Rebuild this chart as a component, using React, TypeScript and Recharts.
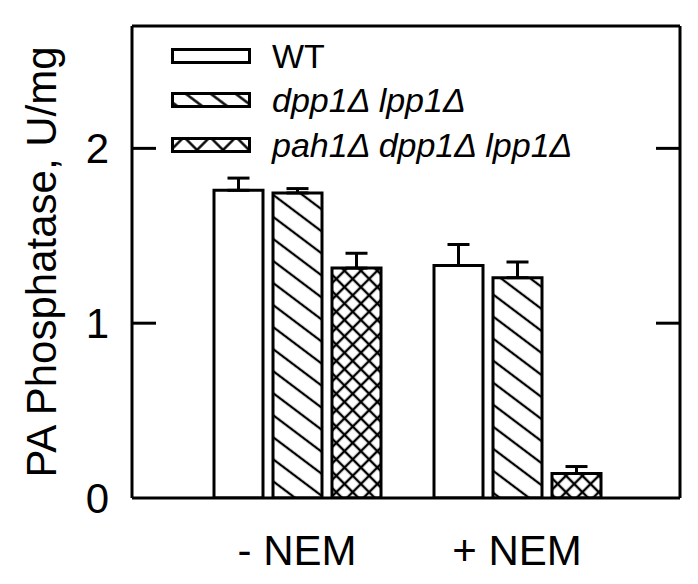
import React from 'react';
import { BarChart, Bar, Line, XAxis, YAxis, ErrorBar, Legend, CartesianGrid } from 'recharts';

const FONT = '"Liberation Sans", Arial, sans-serif';

// PA phosphatase activity (U/mg)
const conditions = ['- NEM', '+ NEM'];
const wtValues = [1.76, 1.33];
const wtErrors = [0.07, 0.12];
const dppValues = [1.745, 1.26];
const dppErrors = [0.025, 0.09];
const pahValues = [1.315, 0.14];
const pahErrors = [0.085, 0.04];
const yTicks = [0, 1, 2];
const frameTicks = [1, 2];

const series = [
  { key: 'wt', label: 'WT', fill: '#ffffff', swatch: '#ffffff', italic: false },
  { key: 'dpp', label: 'dpp1Δ lpp1Δ', fill: 'url(#hatchDiag)', swatch: 'url(#swatchDiag)', italic: true },
  { key: 'pah', label: 'pah1Δ dpp1Δ lpp1Δ', fill: 'url(#hatchCross)', swatch: 'url(#swatchCross)', italic: true },
];

// errors only go up, so lower part is 0
const data = conditions.map((c, i) => ({
  condition: c,
  wt: wtValues[i],
  wtErr: [0, wtErrors[i]],
  dpp: dppValues[i],
  dppErr: [0, dppErrors[i]],
  pah: pahValues[i],
  pahErr: [0, pahErrors[i]],
}));

const LeftTick = (props: any) => {
  const { x, y, payload } = props;
  return (
    <g>
      <text x={x} y={y} dy="0.355em" textAnchor="end" fontSize={42} fontFamily={FONT} fill="#000">
        {payload.value}
      </text>
      {payload.value > 0 && (
        <line x1={x + 23} x2={x + 47} y1={y} y2={y} stroke="#000" strokeWidth={3} />
      )}
    </g>
  );
};

const RightTick = (props: any) => {
  const { x, y } = props;
  return <line x1={x - 24} x2={x} y1={y} y2={y} stroke="#000" strokeWidth={3} />;
};

const BottomTick = (props: any) => {
  const { x, y, payload } = props;
  return (
    <text x={x} y={y} dy="0.71em" textAnchor="middle" fontSize={42} fontFamily={FONT} fill="#000">
      {payload.value}
    </text>
  );
};

const renderLegend = () => (
  <div style={{ fontFamily: FONT, color: '#000' }}>
    {series.map((s) => (
      <div key={s.key} style={{ display: 'flex', alignItems: 'center', height: 44.3 }}>
        <svg width={80} height={16} style={{ display: 'block', flexShrink: 0 }}>
          <rect x={1.5} y={1.5} width={77} height={13} fill={s.swatch} stroke="#000" strokeWidth={3} />
        </svg>
        <span
          style={{
            marginLeft: 21,
            fontSize: 34,
            lineHeight: 1,
            whiteSpace: 'nowrap',
            fontStyle: s.italic ? 'italic' : 'normal',
          }}
        >
          {s.label}
        </span>
      </div>
    ))}
  </div>
);

export default function App() {
  return (
    <div style={{ position: 'absolute', left: 0, top: 0, background: '#fff' }}>
      {/* hatch patterns for bars, coarser ones for the legend swatches */}
      <svg width={0} height={0} style={{ position: 'absolute' }}>
        <defs>
          <pattern id="hatchDiag" patternUnits="userSpaceOnUse" width={17.6} height={17.6} patternTransform="rotate(37)">
            <rect width={17.6} height={17.6} fill="#fff" />
            <line x1={0} y1={8.8} x2={17.6} y2={8.8} stroke="#000" strokeWidth={2.3} />
          </pattern>
          <pattern id="hatchCross" patternUnits="userSpaceOnUse" width={11.6} height={11.6} patternTransform="rotate(45)">
            <rect width={11.6} height={11.6} fill="#fff" />
            <line x1={0} y1={5.8} x2={11.6} y2={5.8} stroke="#000" strokeWidth={2.4} />
            <line x1={5.8} y1={0} x2={5.8} y2={11.6} stroke="#000" strokeWidth={2.4} />
          </pattern>
          <pattern id="swatchDiag" patternUnits="userSpaceOnUse" width={15} height={15} patternTransform="rotate(37)">
            <rect width={15} height={15} fill="#fff" />
            <line x1={0} y1={7.5} x2={15} y2={7.5} stroke="#000" strokeWidth={2.4} />
          </pattern>
          <pattern id="swatchCross" patternUnits="userSpaceOnUse" width={18.4} height={18.4} patternTransform="rotate(45)">
            <rect width={18.4} height={18.4} fill="#fff" />
            <line x1={0} y1={9.2} x2={18.4} y2={9.2} stroke="#000" strokeWidth={2.4} />
            <line x1={9.2} y1={0} x2={9.2} y2={18.4} stroke="#000" strokeWidth={2.4} />
          </pattern>
        </defs>
      </svg>
      <BarChart
        width={698}
        height={584}
        data={data}
        margin={{ top: 26, right: 0, bottom: 0, left: 0 }}
        barSize={49}
        barGap={10}
      >
        {/* top and right edges of the frame */}
        <CartesianGrid
          stroke="#000"
          strokeWidth={3}
          horizontalCoordinatesGenerator={({ offset }: any) => [offset.top]}
          verticalCoordinatesGenerator={({ offset }: any) => [offset.left + offset.width]}
        />
        <XAxis
          dataKey="condition"
          padding={{ left: 55, right: 53 }}
          height={86}
          tickSize={0}
          tickMargin={37}
          tickLine={false}
          axisLine={{ stroke: '#000', strokeWidth: 3 }}
          tick={<BottomTick />}
          interval={0}
        />
        <YAxis
          domain={[0, 2.7]}
          allowDataOverflow
          ticks={yTicks}
          interval={0}
          width={132}
          tickSize={0}
          tickMargin={23}
          tickLine={false}
          axisLine={{ stroke: '#000', strokeWidth: 3 }}
          tick={<LeftTick />}
          label={{
            value: 'PA Phosphatase, U/mg',
            angle: -90,
            position: 'insideLeft',
            offset: 41,
            textAnchor: 'middle',
            style: { fontSize: 42, fontFamily: FONT, fill: '#000', textAnchor: 'middle' },
          }}
        />
        <YAxis
          yAxisId="right"
          orientation="right"
          domain={[0, 2.7]}
          allowDataOverflow
          ticks={frameTicks}
          interval={0}
          width={18}
          tickSize={0}
          tickMargin={0}
          tickLine={false}
          axisLine={false}
          tick={<RightTick />}
        />
        <Legend
          layout="horizontal"
          align="center"
          verticalAlign="middle"
          content={renderLegend}
          wrapperStyle={{ left: 171, top: 34, width: 420, height: 133 }}
        />
        <Bar dataKey="wt" name="WT" fill="#ffffff" stroke="#000" strokeWidth={3} isAnimationActive={false}>
          <ErrorBar dataKey="wtErr" width={11} stroke="#000" strokeWidth={3} direction="y" isAnimationActive={false} />
        </Bar>
        <Bar dataKey="dpp" name="dpp1Δ lpp1Δ" fill="url(#hatchDiag)" stroke="#000" strokeWidth={3} isAnimationActive={false}>
          <ErrorBar dataKey="dppErr" width={11} stroke="#000" strokeWidth={3} direction="y" isAnimationActive={false} />
        </Bar>
        <Bar dataKey="pah" name="pah1Δ dpp1Δ lpp1Δ" fill="url(#hatchCross)" stroke="#000" strokeWidth={3} isAnimationActive={false}>
          <ErrorBar dataKey="pahErr" width={11} stroke="#000" strokeWidth={3} direction="y" isAnimationActive={false} />
        </Bar>
        {/* invisible series so the right frame axis gets a scale */}
        <Line
          yAxisId="right"
          dataKey="wt"
          stroke="none"
          dot={false}
          activeDot={false}
          legendType="none"
          isAnimationActive={false}
        />
      </BarChart>
    </div>
  );
}
